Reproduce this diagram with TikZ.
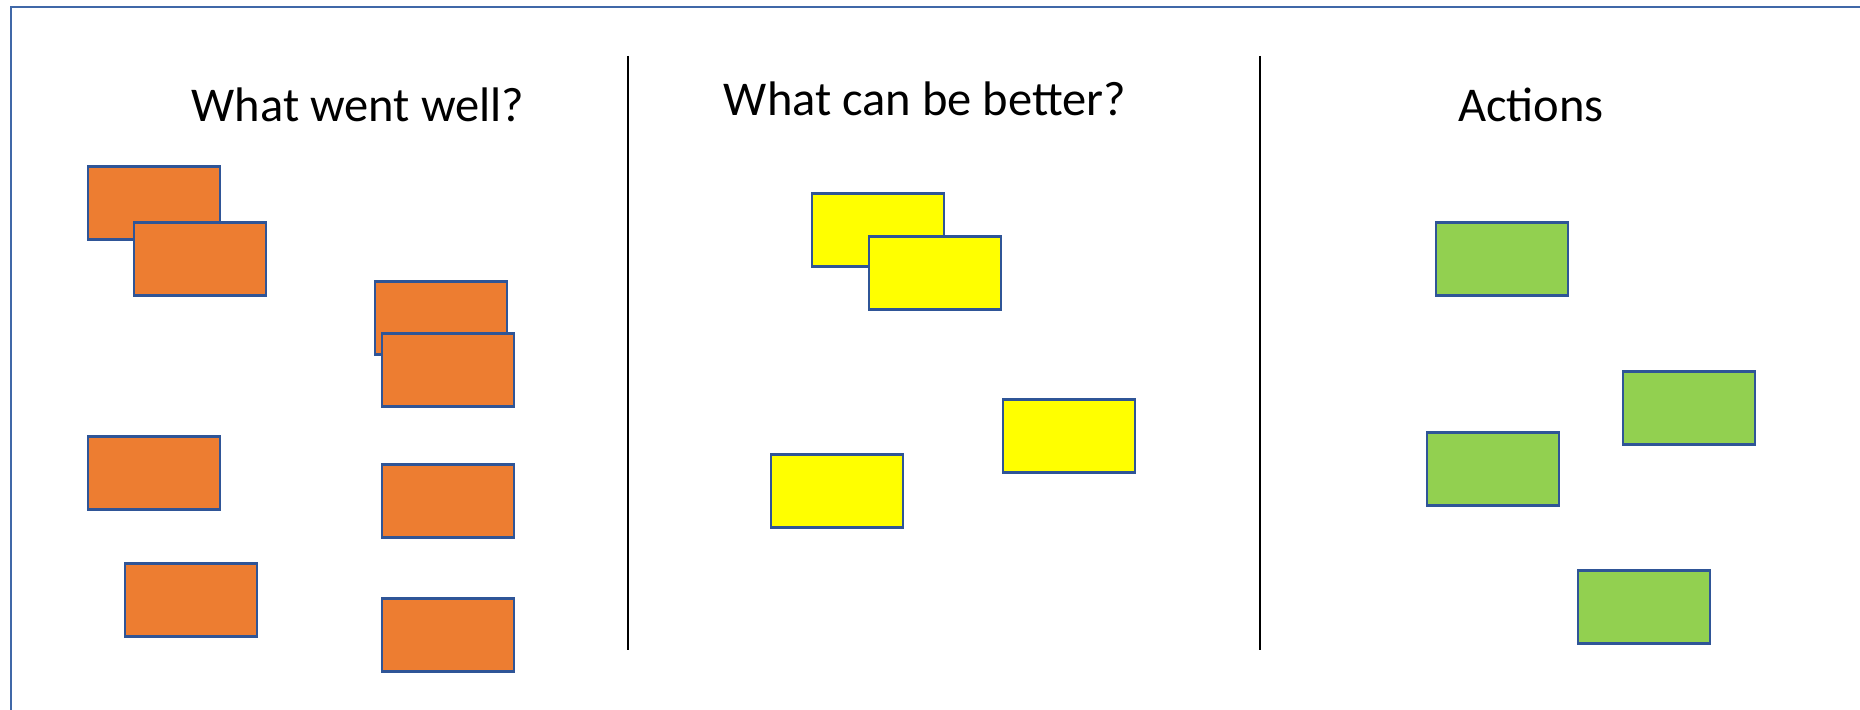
\documentclass[tikz,border=0pt]{standalone}
\usepackage{fontspec}
\setmainfont{Carlito}
\definecolor{frameblue}{HTML}{4068A8}
\definecolor{cardline}{HTML}{2F5597}
\definecolor{cardorange}{HTML}{ED7D31}
\definecolor{cardyellow}{HTML}{FFFF00}
\definecolor{cardgreen}{HTML}{92D050}
\begin{document}
\begin{tikzpicture}[x=0.01cm,y=-0.01cm,
  card/.style={draw=cardline, line width=0.6pt, minimum width=1.32cm, minimum height=0.73cm, inner sep=0pt},
  heading/.style={font=\fontsize{13.8}{16}\selectfont, anchor=base}]
\useasboundingbox (0,0) rectangle (1860,710);
\draw[frameblue, line width=0.8pt] (11,7) rectangle (1900,740);
% column dividers
\draw[line width=0.4pt] (628,56) -- (628,650);
\draw[line width=0.4pt] (1260,56) -- (1260,650);
% headings
\node[heading] (well) at (358,122) {What went well?};
\node[heading] (better) at (925,116) {What can be better?};
\node[heading] (actions) at (1531,122) {Actions};
% went well
\node[card, fill=cardorange] (o1) at (154,203) {};
\node[card, fill=cardorange] (o2) at (200,259) {};
\node[card, fill=cardorange] (o3) at (441,318) {};
\node[card, fill=cardorange] (o4) at (448,370) {};
\node[card, fill=cardorange] (o5) at (154,473) {};
\node[card, fill=cardorange] (o6) at (448,501) {};
\node[card, fill=cardorange] (o7) at (191,600) {};
\node[card, fill=cardorange] (o8) at (448,635) {};
% can be better
\node[card, fill=cardyellow] (y1) at (878,230) {};
\node[card, fill=cardyellow] (y2) at (935,273) {};
\node[card, fill=cardyellow] (y3) at (1069,436) {};
\node[card, fill=cardyellow] (y4) at (837,491) {};
% actions
\node[card, fill=cardgreen] (g1) at (1502,259) {};
\node[card, fill=cardgreen] (g2) at (1689,408) {};
\node[card, fill=cardgreen] (g3) at (1493,469) {};
\node[card, fill=cardgreen] (g4) at (1644,607) {};
\end{tikzpicture}
\end{document}
